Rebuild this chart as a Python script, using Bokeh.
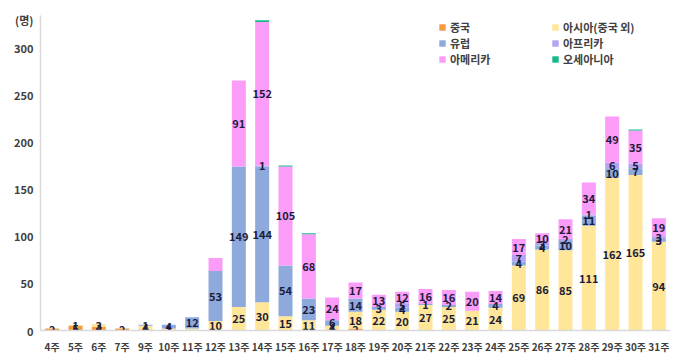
import numpy as np
from bokeh.plotting import figure
from bokeh.models import ColumnDataSource, FactorRange, Range1d, Legend, LegendItem, FixedTicker
from bokeh.core.properties import value
from bokeh.embed import file_html
from bokeh.resources import INLINE

weeks = ["4주", "5주", "6주", "7주", "9주", "10주", "11주", "12주", "13주", "14주", "15주", "16주", "17주",
         "18주", "19주", "20주", "21주", "22주", "23주", "24주", "25주", "26주", "27주", "28주", "29주", "30주", "31주"]
china =   [2, 5, 4, 2, 1, 1, 0, 0, 0, 0, 0, 0, 1, 2, 0, 0, 0, 0, 0, 0, 0, 0, 0, 0, 0, 0, 0]
asia =    [0, 1, 3, 0, 4, 1, 2, 10, 25, 30, 15, 11, 4, 18, 22, 20, 27, 25, 21, 24, 69, 86, 85, 111, 162, 165, 94]
europe =  [0, 0, 0, 0, 1, 4, 12, 53, 149, 144, 54, 23, 6, 14, 3, 4, 1, 2, 0, 4, 4, 4, 10, 11, 10, 7, 3]
africa =  [0, 0, 0, 0, 0, 0, 0, 0, 0, 1, 0, 0, 0, 0, 0, 5, 0, 0, 0, 0, 7, 3, 2, 1, 6, 5, 3]
america = [0, 0, 0, 0, 0, 0, 0, 14, 91, 152, 105, 68, 24, 17, 13, 12, 16, 16, 20, 14, 17, 10, 21, 34, 49, 35, 19]
oceania = [0, 0, 0, 0, 0, 0, 0, 0, 0, 2, 1, 1, 0, 0, 0, 0, 0, 0, 0, 0, 0, 0, 0, 0, 0, 1, 0]

series_keys = ["china", "asia", "europe", "africa", "america", "oceania"]
series_names = ["중국", "아시아(중국 외)", "유럽", "아프리카", "아메리카", "오세아니아"]
colors = ["#F59A3E", "#FFE699", "#8EA9DB", "#B4A2F2", "#FA9CF8", "#14B88A"]
y_ticks = [0, 50, 100, 150, 200, 250, 300]
unit_label = "(명)"
# values that the reference leaves unlabelled
hidden_labels = [("11주", "asia"), ("12주", "america")]

data = dict(week=weeks, china=china, asia=asia, europe=europe, africa=africa,
            america=america, oceania=oceania)
source = ColumnDataSource(data)

FONT = "Noto Sans CJK KR"
Y_MAX = 334
UNIT_Y = 329

p = figure(x_range=FactorRange(*weeks, range_padding=0), y_range=Range1d(0, Y_MAX),
           width=672, height=356, output_backend="svg", toolbar_location=None,
           min_border_left=40, min_border_right=2, min_border_top=15, min_border_bottom=26)
p.outline_line_color = None
p.background_fill_color = "white"
p.border_fill_color = "white"
p.xgrid.grid_line_color = None
p.ygrid.grid_line_color = None

renderers = p.vbar_stack(series_keys, x="week", width=0.6, color=colors, line_color=None, source=source)

# segment value labels
lx, ly, lt = [], [], []
bottom = np.zeros(len(weeks))
for key, vals in zip(series_keys, [china, asia, europe, africa, america, oceania]):
    vals = np.array(vals, dtype=float)
    if key != "oceania":
        for i, v in enumerate(vals):
            if v > 0 and (weeks[i], key) not in hidden_labels:
                lx.append(weeks[i])
                ly.append(bottom[i] + v / 2.0)
                lt.append(str(int(v)))
    bottom += vals
lsrc = ColumnDataSource(dict(x=lx, y=ly, t=lt))
p.text(x="x", y="y", text="t", source=lsrc, text_align="center", text_baseline="middle",
       text_font=value(FONT), text_font_size="11px", text_font_style="bold", text_color="#1C1C3A")

# axes
for ax in (p.xaxis[0], p.yaxis[0]):
    ax.axis_line_color = "#D9D9D9"
    ax.axis_line_width = 1.5
    ax.major_tick_line_color = None
    ax.minor_tick_line_color = None
    ax.major_tick_out = 0
    ax.major_tick_in = 0
    ax.major_label_text_font = FONT
    ax.major_label_text_font_size = "11px"
    ax.major_label_text_font_style = "bold"
    ax.major_label_text_color = "#404040"
p.xaxis[0].major_label_text_font_size = "10px"
p.yaxis[0].ticker = FixedTicker(ticks=y_ticks + [UNIT_Y])
p.yaxis[0].major_label_overrides = {UNIT_Y: unit_label}
p.yaxis[0].major_label_standoff = 7
p.xaxis[0].major_label_standoff = 8

# legend: two columns, three rows, one item per legend box
legend_pos = [(398, 295), (511, 295), (398, 279), (511, 279), (398, 263), (511, 263)]
for i, loc in enumerate(legend_pos):
    lg = Legend(items=[LegendItem(label=series_names[i], renderers=[renderers[i]])],
                location=loc, orientation="vertical",
                label_text_font=FONT, label_text_font_size="11px", label_text_font_style="bold",
                label_text_color="#404040", glyph_width=8, glyph_height=8, label_height=14,
                label_standoff=4, spacing=0, padding=0, margin=0,
                border_line_color=None, background_fill_alpha=0)
    p.add_layout(lg, "center")

open("out.html", "w").write(file_html(p, INLINE))
